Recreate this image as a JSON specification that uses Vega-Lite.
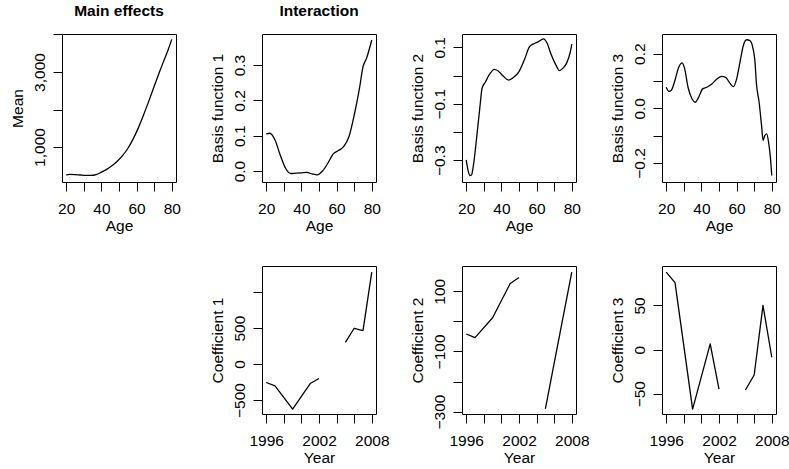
{
  "$schema": "https://vega.github.io/schema/vega-lite/v6.json",
  "autosize": {"type": "none"},
  "padding": {"left": 62, "top": 34, "right": 727, "bottom": 435},
  "config": {
    "font": "Liberation Sans",
    "view": {"stroke": "black", "strokeWidth": 1},
    "axis": {"domain": false, "grid": false, "ticks": true, "tickColor": "black", "tickSize": 9, "tickWidth": 1,
      "labelFont": "Liberation Sans", "labelFontSize": 15.5, "labelColor": "black",
      "titleFont": "Liberation Sans", "titleFontSize": 15.5, "titleFontWeight": "normal", "titleColor": "black",
      "labelBaseline": "alphabetic", "titleBaseline": "alphabetic", "labelOverlap": false, "labelFlush": false},
    "axisX": {"labelPadding": 22, "labelAngle": 0, "labelAlign": "center", "titleY": 48},
    "axisY": {"labelAngle": -90, "labelAlign": "center", "labelBaseline": "alphabetic", "labelPadding": 8.5, "titleX": -40, "titleAngle": -90},
    "title": {"font": "Liberation Sans", "fontSize": 15.5, "fontWeight": "bold", "color": "black", "frame": "group", "anchor": "middle", "baseline": "alphabetic", "offset": 14.5},
    "line": {"color": "black", "strokeWidth": 1.3, "strokeJoin": "round"}
  },
  "datasets": {
    "main": [
      {"age": 20, "v": 257}, {"age": 22, "v": 272}, {"age": 25, "v": 266}, {"age": 28, "v": 254},
      {"age": 31, "v": 243}, {"age": 34, "v": 242}, {"age": 37, "v": 265}, {"age": 40, "v": 330},
      {"age": 43, "v": 405}, {"age": 46, "v": 500}, {"age": 49, "v": 620}, {"age": 52, "v": 770},
      {"age": 55, "v": 960}, {"age": 58, "v": 1210}, {"age": 61, "v": 1510}, {"age": 64, "v": 1860},
      {"age": 67, "v": 2230}, {"age": 70, "v": 2620}, {"age": 73, "v": 3000}, {"age": 76, "v": 3360},
      {"age": 78, "v": 3600}, {"age": 80, "v": 3870}
    ],
    "bf1": [
      {"age": 20, "v": 0.105}, {"age": 22, "v": 0.107}, {"age": 25, "v": 0.088}, {"age": 28, "v": 0.045},
      {"age": 31, "v": 0.008}, {"age": 34, "v": -0.007}, {"age": 37, "v": -0.006}, {"age": 40, "v": -0.005},
      {"age": 43, "v": -0.004}, {"age": 46, "v": -0.008}, {"age": 49, "v": -0.011}, {"age": 52, "v": 0.0},
      {"age": 55, "v": 0.022}, {"age": 58, "v": 0.048}, {"age": 61, "v": 0.058}, {"age": 64, "v": 0.069},
      {"age": 67, "v": 0.097}, {"age": 70, "v": 0.158}, {"age": 73, "v": 0.234}, {"age": 75, "v": 0.295},
      {"age": 77, "v": 0.319}, {"age": 80, "v": 0.371}
    ],
    "bf2": [
      {"age": 20, "v": -0.299}, {"age": 21, "v": -0.334}, {"age": 22, "v": -0.354}, {"age": 23, "v": -0.352},
      {"age": 24, "v": -0.322}, {"age": 26, "v": -0.216}, {"age": 28, "v": -0.098}, {"age": 29, "v": -0.045},
      {"age": 31, "v": -0.022}, {"age": 33, "v": 0.002}, {"age": 36, "v": 0.022}, {"age": 38, "v": 0.017},
      {"age": 41, "v": -0.002}, {"age": 44, "v": -0.016}, {"age": 47, "v": -0.006}, {"age": 50, "v": 0.014},
      {"age": 53, "v": 0.055}, {"age": 56, "v": 0.102}, {"age": 58, "v": 0.111}, {"age": 61, "v": 0.120},
      {"age": 64, "v": 0.130}, {"age": 66, "v": 0.114}, {"age": 68, "v": 0.079}, {"age": 71, "v": 0.037},
      {"age": 73, "v": 0.017}, {"age": 75, "v": 0.026}, {"age": 77, "v": 0.043}, {"age": 79, "v": 0.079},
      {"age": 80, "v": 0.111}
    ],
    "bf3": [
      {"age": 20, "v": 0.077}, {"age": 21.5, "v": 0.062}, {"age": 23, "v": 0.067}, {"age": 24.9, "v": 0.101},
      {"age": 27.1, "v": 0.150}, {"age": 29, "v": 0.166}, {"age": 30.5, "v": 0.144}, {"age": 32.4, "v": 0.077},
      {"age": 34.7, "v": 0.034}, {"age": 36.5, "v": 0.022}, {"age": 38.4, "v": 0.040}, {"age": 40.7, "v": 0.071},
      {"age": 43.1, "v": 0.077}, {"age": 45.9, "v": 0.089}, {"age": 48.8, "v": 0.107}, {"age": 51.6, "v": 0.117},
      {"age": 53.8, "v": 0.113}, {"age": 56.3, "v": 0.091}, {"age": 58.2, "v": 0.079}, {"age": 60, "v": 0.107},
      {"age": 61.9, "v": 0.168}, {"age": 63.8, "v": 0.229}, {"age": 65.7, "v": 0.251}, {"age": 67.6, "v": 0.248},
      {"age": 69.4, "v": 0.217}, {"age": 70.4, "v": 0.174}, {"age": 71.3, "v": 0.089}, {"age": 72.8, "v": 0.022},
      {"age": 74.1, "v": -0.057}, {"age": 75.1, "v": -0.118}, {"age": 76, "v": -0.100}, {"age": 77.1, "v": -0.094},
      {"age": 78.3, "v": -0.130}, {"age": 79.2, "v": -0.179}, {"age": 80, "v": -0.246}
    ],
    "c1": [
      {"year": 1996, "v": -257, "seg": "a"}, {"year": 1997, "v": -303, "seg": "a"}, {"year": 1999, "v": -628, "seg": "a"},
      {"year": 2001, "v": -271, "seg": "a"}, {"year": 2002, "v": -201, "seg": "a"},
      {"year": 2005, "v": 302, "seg": "b"}, {"year": 2006, "v": 497, "seg": "b"}, {"year": 2007, "v": 465, "seg": "b"},
      {"year": 2008, "v": 1279, "seg": "b"}
    ],
    "c2": [
      {"year": 1996, "v": -42, "seg": "a"}, {"year": 1997, "v": -54, "seg": "a"}, {"year": 1999, "v": 12, "seg": "a"},
      {"year": 2001, "v": 126, "seg": "a"}, {"year": 2002, "v": 146, "seg": "a"},
      {"year": 2005, "v": -291, "seg": "b"}, {"year": 2006, "v": -139, "seg": "b"}, {"year": 2007, "v": 12, "seg": "b"},
      {"year": 2008, "v": 164, "seg": "b"}
    ],
    "c3": [
      {"year": 1996, "v": 87.8, "seg": "a"}, {"year": 1997, "v": 75.8, "seg": "a"}, {"year": 1999, "v": -67.4, "seg": "a"},
      {"year": 2001, "v": 6.5, "seg": "a"}, {"year": 2002, "v": -44.7, "seg": "a"},
      {"year": 2005, "v": -45.8, "seg": "b"}, {"year": 2006, "v": -28.8, "seg": "b"}, {"year": 2007, "v": 50, "seg": "b"},
      {"year": 2008, "v": -8.7, "seg": "b"}
    ]
  },
  "columns": 4,
  "bounds": "flush",
  "spacing": {"row": 84, "column": 86},
  "concat": [
    {
      "title": "Main effects",
      "data": {"name": "main"}, "width": 114, "height": 148,
      "mark": {"type": "line", "interpolate": "monotone"},
      "encoding": {
        "x": {"field": "age", "type": "quantitative", "title": "Age",
          "scale": {"domain": [17.6, 82.4], "nice": false, "zero": false},
          "axis": {"values": [20, 30, 40, 50, 60, 70, 80], "labelExpr": "datum.value % 20 == 0 ? datum.label : ''"}},
        "y": {"field": "v", "type": "quantitative", "title": "Mean",
          "scale": {"domain": [67, 4013], "nice": false, "zero": false},
          "axis": {"values": [1000, 2000, 3000, 4000], "format": ",.0f", "labelExpr": "datum.value == 1000 || datum.value == 3000 ? datum.label : ''"}}
      }
    },
    {
      "title": "Interaction",
      "data": {"name": "bf1"}, "width": 114, "height": 148,
      "mark": {"type": "line", "interpolate": "monotone"},
      "encoding": {
        "x": {"field": "age", "type": "quantitative", "title": "Age",
          "scale": {"domain": [17.6, 82.4], "nice": false, "zero": false},
          "axis": {"values": [20, 30, 40, 50, 60, 70, 80], "labelExpr": "datum.value % 20 == 0 ? datum.label : ''"}},
        "y": {"field": "v", "type": "quantitative", "title": "Basis function 1",
          "scale": {"domain": [-0.031, 0.388], "nice": false, "zero": false},
          "axis": {"values": [0, 0.1, 0.2, 0.3], "format": ".1f"}}
      }
    },
    {
      "data": {"name": "bf2"}, "width": 114, "height": 148,
      "mark": {"type": "line", "interpolate": "monotone"},
      "encoding": {
        "x": {"field": "age", "type": "quantitative", "title": "Age",
          "scale": {"domain": [17.6, 82.4], "nice": false, "zero": false},
          "axis": {"values": [20, 30, 40, 50, 60, 70, 80], "labelExpr": "datum.value % 20 == 0 ? datum.label : ''"}},
        "y": {"field": "v", "type": "quantitative", "title": "Basis function 2",
          "scale": {"domain": [-0.377, 0.147], "nice": false, "zero": false},
          "axis": {"values": [-0.3, -0.2, -0.1, 0, 0.1], "format": ".1f", "labelExpr": "round(datum.value * 10) % 2 != 0 ? datum.label : ''"}}
      }
    },
    {
      "data": {"name": "bf3"}, "width": 114, "height": 148,
      "mark": {"type": "line", "interpolate": "monotone"},
      "encoding": {
        "x": {"field": "age", "type": "quantitative", "title": "Age",
          "scale": {"domain": [17.6, 82.4], "nice": false, "zero": false},
          "axis": {"values": [20, 30, 40, 50, 60, 70, 80], "labelExpr": "datum.value % 20 == 0 ? datum.label : ''"}},
        "y": {"field": "v", "type": "quantitative", "title": "Basis function 3",
          "scale": {"domain": [-0.27, 0.272], "nice": false, "zero": false},
          "axis": {"values": [-0.2, -0.1, 0, 0.1, 0.2], "format": ".1f", "labelExpr": "round(datum.value * 10) % 2 == 0 ? datum.label : ''"}}
      }
    },
    {
      "data": {"values": []}, "width": 114, "height": 148,
      "view": {"stroke": null},
      "mark": "point"
    },
    {
      "data": {"name": "c1"}, "width": 114, "height": 148,
      "mark": "line",
      "encoding": {
        "x": {"field": "year", "type": "quantitative", "title": "Year",
          "scale": {"domain": [1995.52, 2008.48], "nice": false, "zero": false},
          "axis": {"values": [1996, 1998, 2000, 2002, 2004, 2006, 2008], "format": "d", "labelExpr": "(datum.value - 1996) % 6 == 0 ? datum.label : ''"}},
        "y": {"field": "v", "type": "quantitative", "title": "Coefficient 1",
          "scale": {"domain": [-695, 1363], "nice": false, "zero": false},
          "axis": {"values": [-500, 0, 500, 1000], "format": "d", "labelExpr": "datum.value < 1000 ? datum.label : ''"}},
        "detail": {"field": "seg"}
      }
    },
    {
      "data": {"name": "c2"}, "width": 114, "height": 148,
      "mark": "line",
      "encoding": {
        "x": {"field": "year", "type": "quantitative", "title": "Year",
          "scale": {"domain": [1995.52, 2008.48], "nice": false, "zero": false},
          "axis": {"values": [1996, 1998, 2000, 2002, 2004, 2006, 2008], "format": "d", "labelExpr": "(datum.value - 1996) % 6 == 0 ? datum.label : ''"}},
        "y": {"field": "v", "type": "quantitative", "title": "Coefficient 2",
          "scale": {"domain": [-308, 184], "nice": false, "zero": false},
          "axis": {"values": [-300, -200, -100, 0, 100], "format": "d", "labelExpr": "round(datum.value / 100) % 2 != 0 ? datum.label : ''"}},
        "detail": {"field": "seg"}
      }
    },
    {
      "data": {"name": "c3"}, "width": 114, "height": 148,
      "mark": "line",
      "encoding": {
        "x": {"field": "year", "type": "quantitative", "title": "Year",
          "scale": {"domain": [1995.52, 2008.48], "nice": false, "zero": false},
          "axis": {"values": [1996, 1998, 2000, 2002, 2004, 2006, 2008], "format": "d", "labelExpr": "(datum.value - 1996) % 6 == 0 ? datum.label : ''"}},
        "y": {"field": "v", "type": "quantitative", "title": "Coefficient 3",
          "scale": {"domain": [-73, 94.7], "nice": false, "zero": false},
          "axis": {"values": [-50, 0, 50], "format": "d"}},
        "detail": {"field": "seg"}
      }
    }
  ]
}
